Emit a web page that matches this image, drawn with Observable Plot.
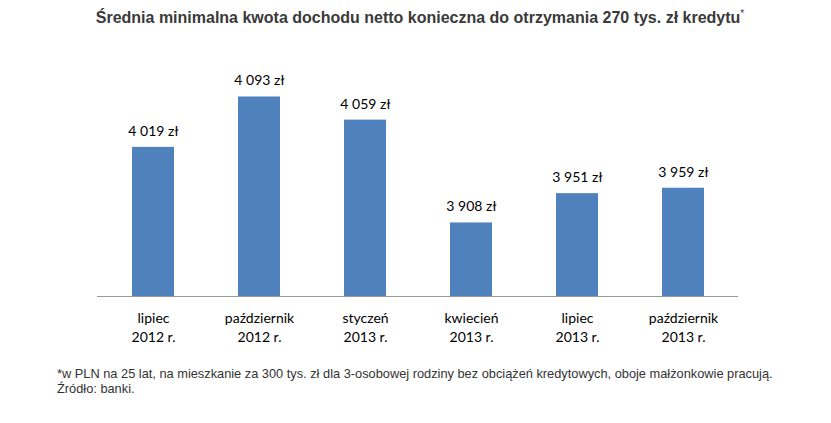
<!DOCTYPE html>
<html><head><meta charset="utf-8">
<script src="https://cdn.jsdelivr.net/npm/d3@7"></script>
<script src="https://cdn.jsdelivr.net/npm/@observablehq/plot@0.6"></script>
<style>
body{margin:0;background:#fff;}
#wrap{position:relative;width:831px;height:423px;overflow:hidden;}
#title{position:absolute;left:0;width:840px;top:8px;text-align:center;font-family:"Liberation Sans",Arial,sans-serif;font-weight:bold;font-size:16px;color:#3a3a3a;}
#title sup{font-weight:normal;font-size:10px;}
#note{position:absolute;left:57px;top:366px;font-family:"Liberation Sans",Arial,sans-serif;font-size:12.8px;color:#333;line-height:15px;}
</style></head>
<body><div id="wrap">
<div id="title">Średnia minimalna kwota dochodu netto konieczna do otrzymania 270 tys. zł kredytu<sup>*</sup></div>
<div id="chart"></div>
<div id="note">*w PLN na 25 lat, na mieszkanie za 300 tys. zł dla 3-osobowej rodziny bez obciążeń kredytowych, oboje małżonkowie pracują.<br>Źródło: banki.</div>
</div>
<script>
const months = ["lipiec","październik","styczeń","kwiecień","lipiec","październik"];
const years = ["2012 r.","2012 r.","2013 r.","2013 r.","2013 r.","2013 r."];
const values = [4019,4093,4059,3908,3951,3959];
const labels = ["4 019 zł","4 093 zł","4 059 zł","3 908 zł","3 951 zł","3 959 zł"];

const data = values.map((v,i)=>({key:i, label:months[i]+"\n"+years[i], value:v, text:labels[i]}));
const fmt = new Map(data.map(d=>[d.key,d.label]));

const chart = Plot.plot({
  width:831, height:423,
  marginLeft:97, marginRight:93, marginTop:91.7, marginBottom:127,
  style:{fontFamily:"Lato, 'Open Sans', sans-serif", fontSize:"14px", color:"#000", background:"transparent"},
  x:{domain:data.map(d=>d.key), paddingInner:0.607, paddingOuter:0.3, axis:null},
  y:{domain:[3800,4100], axis:null},
  marks:[
    Plot.barY(data,{x:"key", y1:3800, y2:"value", fill:"#4F81BD"}),
    Plot.ruleY([3800],{stroke:"#999", strokeWidth:1}),
    Plot.text(data,{x:"key", y:"value", text:"text", dy:-16, fontSize:14, fill:"#000"}),
    Plot.axisX({domain:data.map(d=>d.key), tickSize:0, tickPadding:14, tickFormat:k=>fmt.get(k), fontSize:14, lineHeight:1.3, fill:"#000", label:null})
  ]
});
document.getElementById("chart").appendChild(chart);
</script>
</body></html>
